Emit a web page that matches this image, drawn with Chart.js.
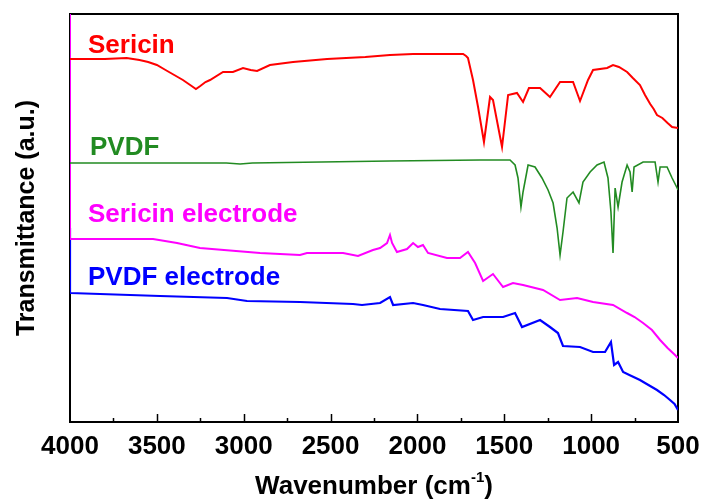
<!DOCTYPE html>
<html>
<head>
<meta charset="utf-8">
<style>
  html, body { margin: 0; padding: 0; background: #fff; }
  #wrap { width: 703px; height: 504px; }
</style>
<script src="https://cdn.jsdelivr.net/npm/chart.js@4/dist/chart.umd.min.js"></script>
</head>
<body>
<div id="wrap"><canvas id="ftir"></canvas></div>
<script>
// ========== DATA ==========
const xTicks = [500, 1000, 1500, 2000, 2500, 3000, 3500, 4000];

const sericinWn = [4000, 3800, 3674, 3600, 3550, 3500, 3450, 3400, 3350, 3300, 3275, 3250, 3220, 3194, 3119, 3062, 3004, 2960, 2923, 2849, 2716, 2520, 2300, 2158, 2025, 1870, 1737, 1720, 1709, 1680, 1651, 1617, 1582, 1565, 1513, 1478, 1427, 1392, 1358, 1294, 1237, 1179, 1104, 1064, 1018, 989, 908, 874, 840, 793, 760, 719, 690, 660, 640, 621, 590, 560, 534, 500];
const sericinT = [363, 363, 364, 362, 360, 357, 352, 347, 342, 336, 333, 336, 340, 342, 350, 350, 354, 352, 351, 357, 360, 363, 365, 367, 368, 368, 368, 366, 364, 342, 315, 280, 325, 322, 275, 327, 329, 320, 334, 334, 325, 340, 340, 321, 342, 352, 354, 357, 355, 350, 344, 337, 327, 318, 313, 307, 304, 299, 295, 294];

const pvdfWn = [4000, 3100, 3021, 2950, 2158, 1640, 1467, 1438, 1421, 1404, 1392, 1363, 1323, 1283, 1248, 1219, 1196, 1179, 1162, 1139, 1104, 1070, 1047, 1006, 966, 926, 903, 886, 874, 862, 845, 822, 793, 776, 764, 753, 701, 632, 615, 603, 563, 534, 505, 500];
const pvdfT = [259, 259, 258, 259, 261, 262, 262, 257, 244, 215, 230, 257, 255, 244, 232, 219, 194, 167, 190, 224, 230, 219, 240, 250, 257, 260, 244, 210, 169, 234, 215, 240, 257, 250, 230, 255, 260, 260, 240, 255, 255, 244, 234, 232];

const serElecWn = [4000, 4000, 3522, 3384, 3252, 2906, 2676, 2636, 2428, 2342, 2256, 2215, 2175, 2158, 2146, 2118, 2060, 2025, 1997, 1968, 1939, 1830, 1755, 1709, 1668, 1622, 1565, 1507, 1450, 1392, 1277, 1179, 1081, 989, 874, 793, 750, 701, 650, 603, 560, 517, 500];
const serElecT = [408, 183, 183, 179, 174, 169, 167, 169, 169, 166, 172, 174, 179, 187, 179, 170, 173, 179, 175, 177, 169, 164, 164, 170, 159, 141, 148, 135, 139, 137, 132, 122, 124, 120, 117, 109, 105, 99, 92, 82, 74, 67, 64];

const pvdfElecWn = [4000, 4000, 3482, 3096, 2981, 2676, 2371, 2319, 2215, 2158, 2140, 2025, 1968, 1870, 1709, 1680, 1622, 1507, 1438, 1398, 1294, 1237, 1191, 1162, 1064, 989, 920, 886, 868, 845, 816, 780, 719, 680, 621, 580, 546, 520, 500];
const pvdfElecT = [194, 129, 126, 124, 121, 120, 118, 117, 119, 125, 117, 119, 117, 113, 111, 102, 105, 105, 109, 95, 102, 95, 89, 76, 75, 70, 70, 80, 57, 60, 50, 47, 42, 38, 32, 27, 22, 18, 12];

const seriesNames = ["Sericin", "PVDF", "Sericin electrode", "PVDF electrode"];
const seriesColors = ["#ff0000", "#228b22", "#ff00ff", "#0000ff"];

// ========== HELPERS ==========
const toPoints = (wn, t) => wn.map((x, i) => ({ x: x, y: t[i] }));

const FONT = "'Liberation Sans', Arial, sans-serif";

// frame, inward ticks, series names and axis titles
const decorPlugin = {
  id: "decor",
  beforeDatasetsDraw(chart) {
    const { ctx, chartArea: a, scales } = chart;
    const xs = scales.x;
    ctx.save();
    ctx.strokeStyle = "#000";
    ctx.lineWidth = 2;
    ctx.strokeRect(a.left, a.top, a.right - a.left, a.bottom - a.top);
    ctx.lineWidth = 1.5;
    for (let v = 750; v < 4000; v += 250) {
      const px = Math.round(xs.getPixelForValue(v)) + 0.5;
      const len = v % 500 === 0 ? 8 : 4;
      ctx.beginPath();
      ctx.moveTo(px, a.bottom);
      ctx.lineTo(px, a.bottom - len);
      ctx.stroke();
    }
    ctx.restore();
  },
  afterDatasetsDraw(chart) {
    const { ctx, chartArea: a } = chart;
    ctx.save();
    // series names
    const labelPos = [[88, 53], [90, 155], [88, 222], [88, 285]];
    ctx.font = "bold 26px " + FONT;
    ctx.textAlign = "left";
    ctx.textBaseline = "alphabetic";
    seriesNames.forEach((name, i) => {
      ctx.fillStyle = seriesColors[i];
      ctx.fillText(name, labelPos[i][0], labelPos[i][1]);
    });

    // x title with superscript
    ctx.fillStyle = "#000";
    const main = "Wavenumber (cm";
    const sup = "-1";
    const tail = ")";
    ctx.font = "bold 26px " + FONT;
    const wMain = ctx.measureText(main).width;
    const wTail = ctx.measureText(tail).width;
    ctx.font = "bold 15px " + FONT;
    const wSup = ctx.measureText(sup).width;
    const total = wMain + wSup + wTail;
    const x0 = (a.left + a.right) / 2 - total / 2;
    const base = 494;
    ctx.font = "bold 26px " + FONT;
    ctx.fillText(main, x0, base);
    ctx.font = "bold 15px " + FONT;
    ctx.fillText(sup, x0 + wMain, base - 12);
    ctx.font = "bold 26px " + FONT;
    ctx.fillText(tail, x0 + wMain + wSup, base);

    // y title
    ctx.translate(34, (a.top + a.bottom) / 2);
    ctx.rotate(-Math.PI / 2);
    ctx.textAlign = "center";
    ctx.font = "bold 25px " + FONT;
    ctx.fillText("Transmittance (a.u.)", 0, 0);
    ctx.restore();
  },
};

// ========== CHART ==========
const datasetPairs = [
  [sericinWn, sericinT, 2],
  [pvdfWn, pvdfT, 1.6],
  [serElecWn, serElecT, 2],
  [pvdfElecWn, pvdfElecT, 2.2],
];

new Chart(document.getElementById("ftir"), {
  type: "line",
  data: {
    datasets: datasetPairs.map((p, i) => ({
      label: seriesNames[i],
      data: toPoints(p[0], p[1]),
      borderColor: seriesColors[i],
      borderWidth: p[2],
      pointRadius: 0,
      tension: 0,
      fill: false,
    })),
  },
  options: {
    responsive: true,
    maintainAspectRatio: false,
    animation: false,
    events: [],
    layout: { padding: { left: 70, right: 25, top: 14, bottom: 0 } },
    plugins: { legend: { display: false }, tooltip: { enabled: false } },
    scales: {
      x: {
        type: "linear",
        reverse: true,
        min: 500,
        max: 4000,
        afterFit: (s) => { s.height = 82; },
        afterBuildTicks: (s) => { s.ticks = xTicks.map((v) => ({ value: v })); },
        grid: { display: false, drawTicks: false },
        border: { display: false },
        ticks: {
          color: "#000",
          padding: 9,
          maxRotation: 0,
          autoSkip: false,
          callback: (v) => String(v),
          font: { family: FONT, size: 26, weight: "bold" },
        },
      },
      y: {
        display: false,
        min: 0,
        max: 408,
      },
    },
  },
  plugins: [decorPlugin],
});
</script>
</body>
</html>
